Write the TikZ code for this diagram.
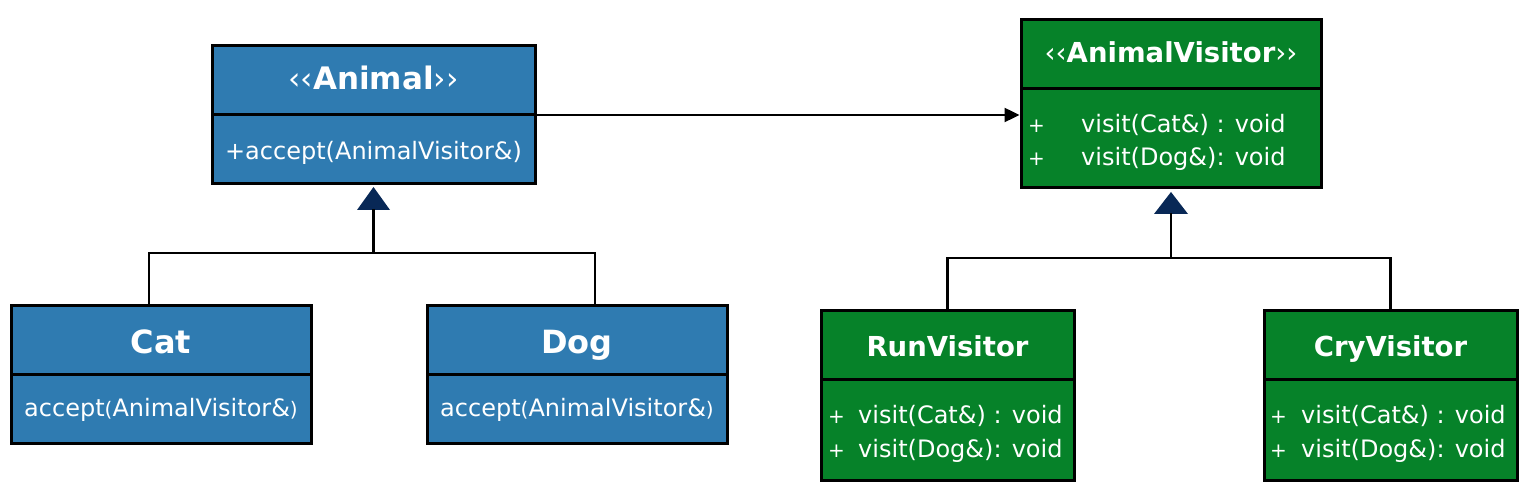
\documentclass[tikz,border=0pt]{standalone}
\usepackage{fontspec}
\setmainfont{DejaVu Sans}
\usetikzlibrary{arrows.meta,calc}
\definecolor{boxblue}{RGB}{47,123,177}
\definecolor{boxgreen}{RGB}{6,130,41}
\definecolor{navytri}{RGB}{8,40,86}
\begin{document}
\begin{tikzpicture}[x=1pt,y=-1pt,
  part/.style={draw=black, line width=3pt, text=white, inner sep=0pt, outer sep=0pt, anchor=north west, text depth=0pt},
  bluebox/.style={part, fill=boxblue},
  greenbox/.style={part, fill=boxgreen},
  ttl/.style={font=\fontsize{27.5}{33}\selectfont\bfseries},
  bigttl/.style={font=\fontsize{32}{38}\selectfont\bfseries},
  body/.style={font=\fontsize{24}{29}\selectfont},
  txt/.style={text=white, inner sep=0pt, anchor=base west, font=\fontsize{24}{29}\selectfont},
  plus/.style={text=white, inner sep=0pt, anchor=base west, font=\fontsize{20}{24}\selectfont},
  conn/.style={draw=black, line width=2.4pt},
  tri/.style={fill=navytri}
]
\useasboundingbox (0,0) rectangle (1532,502);

% Animal
\node[bluebox, text height=19pt, minimum width=323pt, minimum height=69pt] (animalT) at (212,46)
  {\fontsize{31}{37}\selectfont ‹‹\textbf{Animal}››};
\node[bluebox, body, text height=21pt, minimum width=323pt, minimum height=69pt] (animalB) at (animalT.south west)
  {+accept(AnimalVisitor\&)};

% Cat
\node[bluebox, bigttl, text height=27pt, minimum width=300pt, minimum height=69pt] (catT) at (11,306) {Cat};
\node[bluebox, body, text height=15pt, minimum width=300pt, minimum height=69pt] (catB) at (catT.south west)
  {accept{\fontsize{20}{24}\selectfont(}AnimalVisitor\&{\fontsize{20}{24}\selectfont)}};

% Dog
\node[bluebox, bigttl, text height=27pt, minimum width=300pt, minimum height=69pt] (dogT) at (427,306) {Dog};
\node[bluebox, body, text height=15pt, minimum width=300pt, minimum height=69pt] (dogB) at (dogT.south west)
  {accept{\fontsize{20}{24}\selectfont(}AnimalVisitor\&{\fontsize{20}{24}\selectfont)}};

% AnimalVisitor
\node[greenbox, text height=17pt, minimum width=300pt, minimum height=69pt] (avT) at (1021,20)
  {\fontsize{27.5}{33}\selectfont ‹‹\textbf{AnimalVisitor}››};
\node[greenbox, minimum width=300pt, minimum height=99pt] (avB) at (avT.south west) {};
\node[plus] (avP1) at ($(avB.north west)+(7,43.5)$) {+};
\node[txt]  (avL1) at ($(avB.north west)+(60,43.5)$) {visit(Cat\&) : void};
\node[plus] (avP2) at ($(avB.north west)+(7,77)$) {+};
\node[txt]  (avL2) at ($(avB.north west)+(60,77)$) {visit(Dog\&): void};

% RunVisitor
\node[greenbox, ttl, text height=23pt, minimum width=253pt, minimum height=69pt] (runT) at (821,311) {RunVisitor};
\node[greenbox, minimum width=253pt, minimum height=100pt] (runB) at (runT.south west) {};
\node[plus] (runP1) at ($(runB.north west)+(7,43.5)$) {+};
\node[txt]  (runL1) at ($(runB.north west)+(37,43.5)$) {visit(Cat\&) : void};
\node[plus] (runP2) at ($(runB.north west)+(7,77)$) {+};
\node[txt]  (runL2) at ($(runB.north west)+(37,77)$) {visit(Dog\&): void};

% CryVisitor
\node[greenbox, ttl, text height=23pt, minimum width=253pt, minimum height=69pt] (cryT) at (1264,311) {CryVisitor};
\node[greenbox, minimum width=253pt, minimum height=100pt] (cryB) at (cryT.south west) {};
\node[plus] (cryP1) at ($(cryB.north west)+(6,43.5)$) {+};
\node[txt]  (cryL1) at ($(cryB.north west)+(37,43.5)$) {visit(Cat\&) : void};
\node[plus] (cryP2) at ($(cryB.north west)+(6,77)$) {+};
\node[txt]  (cryL2) at ($(cryB.north west)+(37,77)$) {visit(Dog\&): void};

% association arrow
\draw[conn, -{Triangle[length=15pt 0 0,width=14pt 0 0]}] (animalB.north east) -- ($(animalB.north east -| avB.west)+(-1.5,0)$);

% Animal inheritance
\fill[tri] ($(animalB.south)+(0,3)$) -- ++(-16.5,23) -- ++(33,0) -- cycle;
\coordinate (animalJ) at ($(animalB.south)+(0,69)$);
\draw[conn] ($(animalB.south)+(0,25)$) -- (animalJ);
\draw[conn] ($(catT.north)+(-12,0)$) |- (animalJ) -| ($(dogT.north)+(18,0)$);

% Visitor inheritance
\fill[tri] ($(avB.south)+(0,4)$) -- ++(-17,22) -- ++(34,0) -- cycle;
\coordinate (avJ) at ($(avB.south)+(0,70)$);
\draw[conn] ($(avB.south)+(0,25)$) -- (avJ);
\draw[conn] (runT.north) |- (avJ) -| (cryT.north);
\end{tikzpicture}
\end{document}
